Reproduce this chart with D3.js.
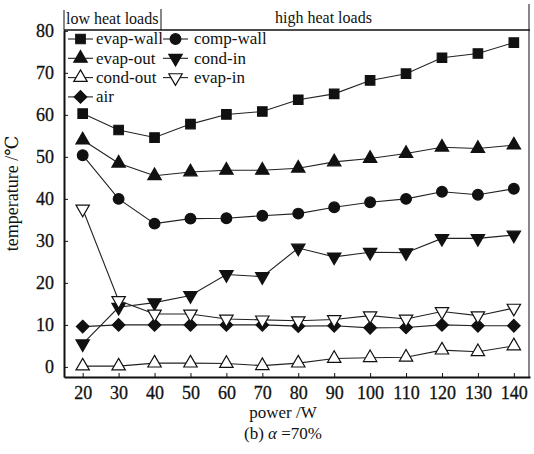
<!DOCTYPE html>
<html>
<head>
<meta charset="utf-8">
<script src="https://cdn.jsdelivr.net/npm/d3@7"></script>
<style>
body { margin: 0; background: #fff; }
text { font-family: "Liberation Serif", "DejaVu Serif", serif; fill: #111; }
</style>
</head>
<body>
<svg class="svg1" width="534" height="454"></svg>
<script>
var power = [20, 30, 40, 50, 60, 70, 80, 90, 100, 110, 120, 130, 140];
var evapWall = [60.3, 56.4, 54.6, 57.8, 60.1, 60.8, 63.6, 65.0, 68.2, 69.8, 73.6, 74.6, 77.2];
var evapOut  = [54.0, 48.5, 45.5, 46.4, 46.8, 46.8, 47.3, 48.8, 49.6, 50.8, 52.3, 52.0, 52.8];
var condOut  = [0.2, 0.2, 0.9, 0.9, 0.8, 0.3, 0.9, 2.0, 2.2, 2.3, 4.0, 3.6, 5.0];
var air      = [9.6, 10.0, 10.0, 10.0, 10.0, 10.0, 9.7, 9.8, 9.3, 9.4, 10.0, 9.8, 9.8];
var compWall = [50.4, 40.0, 34.1, 35.3, 35.4, 36.0, 36.5, 38.0, 39.2, 40.0, 41.7, 41.0, 42.4];
var condIn   = [5.5, 14.2, 15.3, 17.0, 22.0, 21.5, 28.3, 26.2, 27.3, 27.2, 30.6, 30.6, 31.4];
var evapIn   = [37.6, 15.8, 12.6, 12.6, 11.4, 11.2, 11.0, 11.3, 12.2, 11.4, 13.2, 12.2, 14.0];
var yTicks = [0, 10, 20, 30, 40, 50, 60, 70, 80];

var series = [
  {name: "evap-wall", values: evapWall, shape: "square", fill: "#111"},
  {name: "evap-out", values: evapOut, shape: "up", fill: "#111"},
  {name: "cond-out", values: condOut, shape: "up", fill: "#fff"},
  {name: "air", values: air, shape: "diamond", fill: "#111"},
  {name: "comp-wall", values: compWall, shape: "circle", fill: "#111"},
  {name: "cond-in", values: condIn, shape: "down", fill: "#111"},
  {name: "evap-in", values: evapIn, shape: "down", fill: "#fff"}
];

var svg = d3.select(".svg1"),
    margin = {top: 30, right: 4, bottom: 77, left: 64},
    width = svg.attr("width") - margin.left - margin.right,
    height = svg.attr("height") - margin.top - margin.bottom;

var x = d3.scaleLinear().domain([14.8, 144.5]).range([0, width]),
    y = d3.scaleLinear().domain([-2.4, 80.2]).range([height, 0]);

var line = d3.line()
    .x(function(d) { return x(d.p); })
    .y(function(d) { return y(d.v); });

function symbolPath(shape) {
  if (shape == "square") return d3.symbol(d3.symbolSquare, 90)();
  if (shape == "circle") return d3.symbol(d3.symbolCircle, 90)();
  if (shape == "diamond") return "M0,-6.3L6.3,0L0,6.3L-6.3,0Z";
  return d3.symbol(d3.symbolTriangle, 78)();
}
function symbolTransform(shape, px, py) {
  var t = "translate(" + px + "," + py + ")";
  if (shape == "down") t += " rotate(180)";
  return t;
}

var g = svg.append("g").attr("transform", "translate(" + margin.left + "," + margin.top + ")");

// header band
g.append("line").attr("x1", 0).attr("x2", 0).attr("y1", -20).attr("y2", 0).attr("stroke", "#111");
g.append("line").attr("x1", 97).attr("x2", 97).attr("y1", -21).attr("y2", 0).attr("stroke", "#111");
g.append("line").attr("x1", width - 1).attr("x2", width - 1).attr("y1", -26).attr("y2", 0).attr("stroke", "#111");
g.append("text").attr("x", 2).attr("y", -6).style("font-size", "16px").text("low heat loads");
g.append("text").attr("x", 211).attr("y", -7).style("font-size", "16px").text("high heat loads");

// frame
g.append("line").attr("x1", 0).attr("x2", width).attr("y1", 0).attr("y2", 0).attr("stroke", "#111").attr("stroke-width", 1.3);
g.append("line").attr("x1", width - 1).attr("x2", width - 1).attr("y1", 0).attr("y2", height).attr("stroke", "#111");

var xAxis = g.append("g")
    .attr("transform", "translate(0," + height + ")")
    .call(d3.axisBottom(x).tickValues(power).tickSizeInner(-4).tickSizeOuter(0).tickPadding(9));
var yAxis = g.append("g")
    .call(d3.axisLeft(y).tickValues(yTicks).tickSizeInner(-4).tickSizeOuter(0).tickPadding(10));
[xAxis, yAxis].forEach(function(a) {
  a.select(".domain").attr("stroke", "#111").attr("stroke-width", 2);
  a.selectAll(".tick line").attr("stroke", "#111");
  a.selectAll("text").style("font-size", "18px").attr("fill", "#111")
    .style("font-family", "Liberation Serif").attr("stroke", "#111").attr("stroke-width", 0.3);
});

g.append("text")
    .attr("transform", "rotate(-90)")
    .attr("x", -height / 2 + 10)
    .attr("y", -46)
    .attr("text-anchor", "middle")
    .style("font-size", "18px")
    .text("temperature /℃");

g.append("text")
    .attr("x", 219)
    .attr("y", height + 41)
    .attr("text-anchor", "middle")
    .style("font-size", "17px")
    .text("power /W");

var cap = g.append("text")
    .attr("x", 219)
    .attr("y", height + 62)
    .attr("text-anchor", "middle")
    .style("font-size", "17px");
cap.append("tspan").text("(b)  ");
cap.append("tspan").style("font-style", "italic").text("α");
cap.append("tspan").text(" =70%");

// series
var s = g.selectAll(".series")
  .data(series)
  .enter().append("g")
    .attr("class", "series");

s.append("path")
    .attr("fill", "none")
    .attr("stroke", "#222")
    .attr("stroke-width", 1.1)
    .attr("d", function(d) {
      return line(d.values.map(function(v, i) { return {p: power[i], v: v}; }));
    });

s.selectAll(".pt")
  .data(function(d) { return d.values.map(function(v, i) { return {p: power[i], v: v, shape: d.shape, fill: d.fill}; }); })
  .enter().append("path")
    .attr("class", "pt")
    .attr("d", function(d) { return symbolPath(d.shape); })
    .attr("transform", function(d) { return symbolTransform(d.shape, x(d.p), y(d.v)); })
    .attr("fill", function(d) { return d.fill; })
    .attr("stroke", "#111")
    .attr("stroke-width", 1.2);

// legend
var leg = g.selectAll(".leg")
  .data(series)
  .enter().append("g")
    .attr("class", "leg")
    .attr("transform", function(d, i) {
      var col = i < 4 ? 0 : 1, row = i < 4 ? i : i - 4;
      return "translate(" + (col == 0 ? 4 : 99) + "," + (9 + row * 19.3) + ")";
    });
leg.append("line").attr("x1", 0).attr("x2", 25).attr("stroke", "#222").attr("stroke-width", 1.1);
leg.append("path")
    .attr("d", function(d) { return symbolPath(d.shape); })
    .attr("transform", function(d) { return symbolTransform(d.shape, 12.5, 0); })
    .attr("fill", function(d) { return d.fill; })
    .attr("stroke", "#111")
    .attr("stroke-width", 1.2);
leg.append("text")
    .attr("x", function(d, i) { return i < 4 ? 28 : 31; })
    .attr("dy", "0.32em")
    .style("font-size", "17px")
    .text(function(d) { return d.name; });
</script>
</body>
</html>
